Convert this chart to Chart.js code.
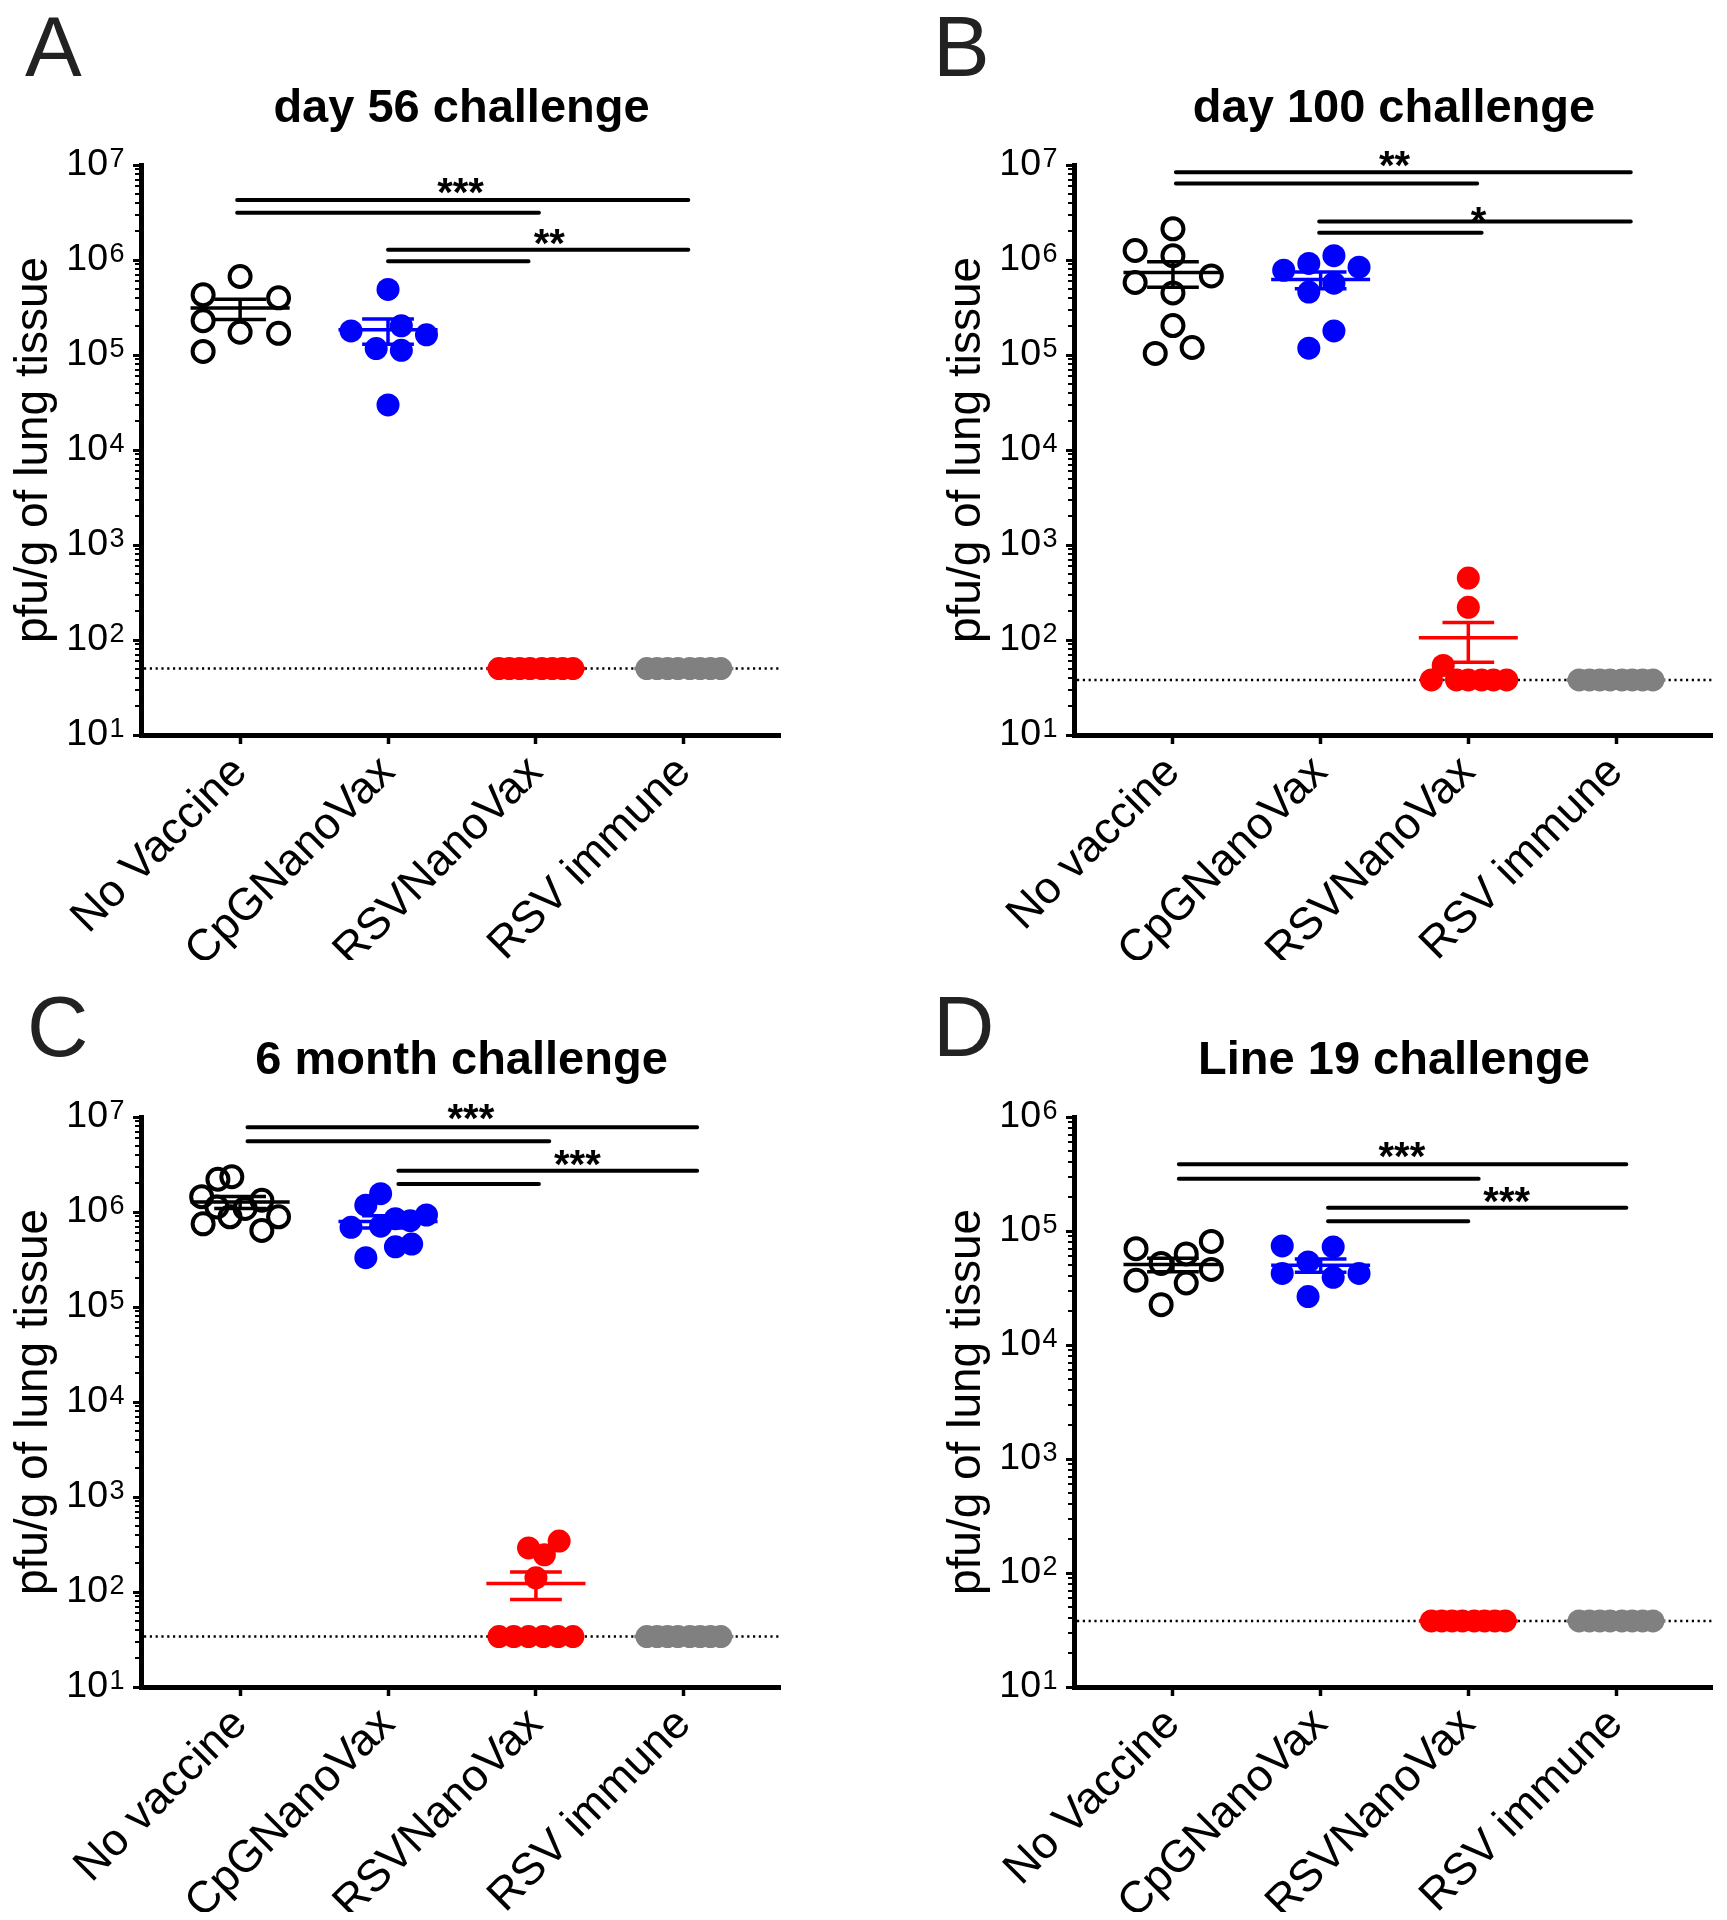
<!DOCTYPE html>
<html>
<head>
<meta charset="utf-8">
<script src="https://cdn.jsdelivr.net/npm/chart.js@4.4.0/dist/chart.umd.min.js"></script>
<style>
  body { margin: 0; background: #fff; width: 1727px; height: 1920px; position: relative; overflow: hidden; }
  canvas { position: absolute; }
</style>
</head>
<body>
<canvas id="chartA" width="863" height="1000" style="left:0;top:0"></canvas>
<canvas id="chartB" width="864" height="1000" style="left:863px;top:0"></canvas>
<canvas id="chartC" width="863" height="968" style="left:0;top:952px"></canvas>
<canvas id="chartD" width="864" height="968" style="left:863px;top:952px"></canvas>
<script>
const FONT = "'Liberation Sans', Arial, sans-serif";

// category labels
const labelsUpper = ['No Vaccine', 'CpGNanoVax', 'RSVNanoVax', 'RSV immune'];
const labelsLower = ['No vaccine', 'CpGNanoVax', 'RSVNanoVax', 'RSV immune'];

// horizontal scatter of tied values (fraction of a category)
const LOD8 = [-0.25, -0.18, -0.11, -0.04, 0.04, 0.11, 0.18, 0.25];

// A: day 56 challenge (pfu/g)
const aNoVax = [6.7e5, 4.3e5, 4.0e5, 2.3e5, 1.74e5, 1.69e5, 1.09e5];
const aNoVaxJit = [0, -0.25, 0.26, -0.25, 0, 0.26, -0.25];
const aCpg = [4.9e5, 2.03e5, 1.79e5, 1.63e5, 1.17e5, 1.12e5, 2.98e4];
const aCpgJit = [0, 0.09, -0.25, 0.26, -0.08, 0.09, 0];
const aRsvNano = [50, 50, 50, 50, 50, 50, 50, 50];
const aRsvImm = [50, 50, 50, 50, 50, 50, 50, 50];
const aLod = 50;

// B: day 100 challenge
const bNoVax = [2.13e6, 1.26e6, 1.11e6, 6.8e5, 5.8e5, 4.5e5, 2.04e5, 1.2e5, 1.04e5];
const bNoVaxJit = [0, -0.256, 0, 0.26, -0.256, 0, 0, 0.13, -0.12];
const bCpg = [1.11e6, 9.2e5, 8.4e5, 7.8e5, 5.7e5, 4.6e5, 1.79e5, 1.18e5];
const bCpgJit = [0.09, -0.08, 0.26, -0.25, 0.09, -0.08, 0.09, -0.08];
const bRsvNano = [449, 221, 54, 38, 38, 38, 38, 38, 38];
const bRsvNanoJit = [0, 0, -0.17, -0.25, -0.08, 0, 0.09, 0.17, 0.26];
const bRsvImm = [38, 38, 38, 38, 38, 38, 38, 38];
const bLod = 38;

// C: 6 month challenge
const cNoVax = [2.35e6, 2.21e6, 1.45e6, 1.33e6, 1.13e6, 1.09e6, 8.9e5, 8.9e5, 7.5e5, 6.4e5];
const cNoVaxJit = [-0.056, -0.15, -0.26, 0.147, -0.157, 0.034, -0.068, 0.26, -0.25, 0.147];
const cCpg = [1.56e6, 1.18e6, 9.3e5, 8.5e5, 8.1e5, 7.1e5, 6.9e5, 4.6e5, 4.3e5, 3.3e5];
const cCpgJit = [-0.05, -0.15, 0.26, 0.05, 0.15, -0.05, -0.25, 0.16, 0.05, -0.15];
const cRsvNano = [344, 291, 246, 141, 34, 34, 34, 34, 34, 34];
const cRsvNanoJit = [0.157, -0.05, 0.057, 0, -0.25, -0.15, -0.05, 0.05, 0.15, 0.25];
const cRsvImm = [34, 34, 34, 34, 34, 34, 34, 34];
const cLod = 34;

// D: Line 19 challenge
const dNoVax = [8.1e4, 7.0e4, 6.3e4, 5.2e4, 4.6e4, 3.7e4, 3.5e4, 2.26e4];
const dNoVaxJit = [0.26, -0.25, 0.09, -0.08, 0.26, -0.25, 0.09, -0.08];
const dCpg = [7.4e4, 7.25e4, 5.35e4, 4.24e4, 4.24e4, 3.92e4, 2.66e4];
const dCpgJit = [-0.26, 0.085, -0.085, -0.26, 0.26, 0.085, -0.085];
const dRsvNano = [38, 38, 38, 38, 38, 38, 38, 38];
const dRsvImm = [38, 38, 38, 38, 38, 38, 38, 38];
const dLod = 38;

// significance brackets: [from category, to category, y value]
const aSig = [[-0.02, 3.03, 4.28e6], [-0.02, 2.02, 3.15e6], [1, 3.03, 1.28e6], [1, 1.95, 9.7e5]];
const aStars = [[1.49, 6.5e6, '***'], [2.09, 1.89e6, '**']];
const bSig = [[0.02, 3.1, 8.4e6], [0.02, 2.06, 6.4e6], [0.99, 3.1, 2.54e6], [0.99, 2.09, 1.94e6]];
const bStars = [[1.5, 1.24e7, '**'], [2.07, 3.2e6, '*']];
const cSig = [[0.05, 3.09, 7.8e6], [0.05, 2.09, 5.57e6], [1.07, 3.09, 2.72e6], [1.07, 2.02, 1.97e6]];
const cStars = [[1.56, 1.2e7, '***'], [2.28, 3.95e6, '***']];
const dSig = [[0.04, 3.07, 3.85e5], [0.04, 2.07, 2.88e5], [1.05, 3.07, 1.6e5], [1.05, 2.0, 1.22e5]];
const dStars = [[1.55, 5.46e5, '***'], [2.26, 2.2e5, '***']];

const groupColors = ['#000000', '#0000ff', '#ff0000', '#808080'];

function makeSet(values, jitter, cat) {
    const open = cat === 0;
    return {
        data: values.map((v, i) => ({ x: cat + jitter[i], y: v })),
        values: values,
        cat: cat,
        pointStyle: 'circle',
        pointRadius: open ? 10.5 : 11.5,
        pointBorderWidth: open ? 4 : 0,
        pointBorderColor: groupColors[cat],
        pointBackgroundColor: open ? 'rgba(0,0,0,0)' : groupColors[cat],
        pointHoverRadius: 0
    };
}

const panelDeco = {
    id: 'panelDeco',
    beforeDatasetsDraw(chart, args, opts) {
        const { ctx, chartArea, scales: { y } } = chart;
        const py = y.getPixelForValue(opts.lod);
        ctx.save();
        ctx.strokeStyle = '#000';
        ctx.lineWidth = 2.5;
        ctx.setLineDash([2.2, 3.6]);
        ctx.beginPath();
        ctx.moveTo(chartArea.left + 3, py);
        ctx.lineTo(chartArea.right, py);
        ctx.stroke();
        ctx.restore();
    },
    afterDatasetsDraw(chart) {
        // mean +/- SEM of each group
        const { ctx, scales: { x, y } } = chart;
        ctx.save();
        ctx.lineWidth = 3.5;
        chart.data.datasets.forEach(ds => {
            const n = ds.values.length;
            const mean = ds.values.reduce((a, b) => a + b, 0) / n;
            const sd = Math.sqrt(ds.values.reduce((a, b) => a + (b - mean) ** 2, 0) / (n - 1));
            const sem = sd / Math.sqrt(n);
            ctx.strokeStyle = groupColors[ds.cat];
            const pm = y.getPixelForValue(mean);
            ctx.beginPath();
            ctx.moveTo(x.getPixelForValue(ds.cat - 0.335), pm);
            ctx.lineTo(x.getPixelForValue(ds.cat + 0.335), pm);
            if (sem > 0) {
                const cx = x.getPixelForValue(ds.cat);
                const pHi = y.getPixelForValue(mean + sem);
                const pLo = y.getPixelForValue(mean - sem);
                ctx.moveTo(cx, pHi);
                ctx.lineTo(cx, pLo);
                ctx.moveTo(x.getPixelForValue(ds.cat - 0.175), pHi);
                ctx.lineTo(x.getPixelForValue(ds.cat + 0.175), pHi);
                ctx.moveTo(x.getPixelForValue(ds.cat - 0.175), pLo);
                ctx.lineTo(x.getPixelForValue(ds.cat + 0.175), pLo);
            }
            ctx.stroke();
        });
        ctx.restore();
    },
    afterDraw(chart, args, opts) {
        const { ctx, chartArea, scales: { x, y } } = chart;
        ctx.save();

        // minor log ticks
        ctx.strokeStyle = '#000';
        ctx.lineWidth = 2;
        const e0 = Math.round(Math.log10(y.min));
        const e1 = Math.round(Math.log10(y.max));
        ctx.beginPath();
        for (let e = e0; e < e1; e++) {
            for (let m = 2; m <= 9; m++) {
                const py = Math.round(y.getPixelForValue(m * Math.pow(10, e)));
                ctx.moveTo(y.right - 6, py);
                ctx.lineTo(y.right, py);
            }
        }
        ctx.stroke();

        // exponents of the tick labels
        const labelRight = y.right - y.options.grid.tickLength - y.options.ticks.padding;
        ctx.fillStyle = '#000';
        ctx.font = '27px ' + FONT;
        ctx.textAlign = 'left';
        ctx.textBaseline = 'alphabetic';
        y.ticks.forEach(t => {
            const py = y.getPixelForValue(t.value);
            ctx.fillText(String(Math.round(Math.log10(t.value))), labelRight + 1.5, py + 1.5);
        });

        // significance brackets
        ctx.lineWidth = 4;
        ctx.lineCap = 'round';
        ctx.beginPath();
        opts.sig.forEach(([x1, x2, v]) => {
            const py = y.getPixelForValue(v);
            ctx.moveTo(x.getPixelForValue(x1), py);
            ctx.lineTo(x.getPixelForValue(x2), py);
        });
        ctx.stroke();
        ctx.font = 'bold 40px ' + FONT;
        ctx.textAlign = 'center';
        opts.stars.forEach(([cx, v, txt]) => {
            ctx.fillText(txt, x.getPixelForValue(cx), y.getPixelForValue(v) + 23);
        });

        // panel title and letter
        ctx.font = 'bold 47px ' + FONT;
        ctx.fillText(opts.title, (chartArea.left + chartArea.right) / 2 + 1, 122);
        ctx.font = '85px ' + FONT;
        ctx.fillStyle = '#222';
        ctx.textAlign = 'left';
        ctx.fillText(opts.letter, opts.letterX, opts.letterY);
        ctx.restore();
    }
};

function makeChart(id, p) {
    const canvas = document.getElementById(id);
    const datasets = [
        makeSet(p.sets[0][0], p.sets[0][1], 0),
        makeSet(p.sets[1][0], p.sets[1][1], 1),
        makeSet(p.sets[2][0], p.sets[2][1], 2),
        makeSet(p.sets[3][0], p.sets[3][1], 3)
    ];
    return new Chart(canvas, {
        type: 'scatter',
        data: { datasets },
        options: {
            responsive: false,
            animation: false,
            events: [],
            layout: { padding: { left: p.padLeft, right: p.padRight, top: 165, bottom: canvas.height - 960 } },
            plugins: {
                legend: { display: false },
                tooltip: { enabled: false },
                panelDeco: {
                    lod: p.lod, sig: p.sig, stars: p.stars, title: p.title,
                    letter: p.letter, letterX: p.letterX, letterY: p.letterY
                }
            },
            scales: {
                x: {
                    type: 'linear',
                    min: -0.67,
                    max: 3.65,
                    afterBuildTicks: s => { s.ticks = [0, 1, 2, 3].map(v => ({ value: v })); },
                    afterFit: s => { s.height = 225; },
                    ticks: {
                        callback: v => p.labels[v],
                        color: '#000',
                        font: { family: FONT, size: 45 },
                        minRotation: 45,
                        maxRotation: 45,
                        autoSkip: false,
                        padding: 2
                    },
                    grid: { drawOnChartArea: false, drawTicks: true, tickLength: 9, tickWidth: 3.5, tickColor: '#000' },
                    border: { display: true, color: '#000', width: 5 }
                },
                y: {
                    type: 'logarithmic',
                    min: 10,
                    max: p.yMax,
                    afterBuildTicks: s => {
                        const ticks = [];
                        for (let v = 10; v <= p.yMax * 1.001; v *= 10) ticks.push({ value: v, major: true });
                        s.ticks = ticks;
                    },
                    afterFit: s => { s.width = 141; },
                    ticks: {
                        callback: () => '10',
                        color: '#000',
                        font: { family: FONT, size: 37.5 },
                        padding: 25
                    },
                    grid: { drawOnChartArea: false, drawTicks: true, tickLength: 8, tickWidth: 3, tickColor: '#000' },
                    border: { display: true, color: '#000', width: 5 },
                    title: {
                        display: true,
                        text: 'pfu/g of lung tissue',
                        color: '#000',
                        font: { family: FONT, size: 46, lineHeight: 1 },
                        padding: { top: 11, bottom: 0 }
                    }
                }
            }
        },
        plugins: [panelDeco]
    });
}

makeChart('chartA', {
    labels: labelsUpper, yMax: 1e7, lod: aLod, sig: aSig, stars: aStars,
    title: 'day 56 challenge', letter: 'A', letterX: 25, letterY: 76, padLeft: 0, padRight: 83,
    sets: [[aNoVax, aNoVaxJit], [aCpg, aCpgJit], [aRsvNano, LOD8], [aRsvImm, LOD8]]
});
makeChart('chartB', {
    labels: labelsLower, yMax: 1e7, lod: bLod, sig: bSig, stars: bStars,
    title: 'day 100 challenge', letter: 'B', letterX: 70, letterY: 76, padLeft: 70, padRight: 15,
    sets: [[bNoVax, bNoVaxJit], [bCpg, bCpgJit], [bRsvNano, bRsvNanoJit], [bRsvImm, LOD8]]
});
makeChart('chartC', {
    labels: labelsLower, yMax: 1e7, lod: cLod, sig: cSig, stars: cStars,
    title: '6 month challenge', letter: 'C', letterX: 27, letterY: 104, padLeft: 0, padRight: 83,
    sets: [[cNoVax, cNoVaxJit], [cCpg, cCpgJit], [cRsvNano, cRsvNanoJit], [cRsvImm, LOD8]]
});
makeChart('chartD', {
    labels: labelsUpper, yMax: 1e6, lod: dLod, sig: dSig, stars: dStars,
    title: 'Line 19 challenge', letter: 'D', letterX: 70, letterY: 104, padLeft: 70, padRight: 15,
    sets: [[dNoVax, dNoVaxJit], [dCpg, dCpgJit], [dRsvNano, LOD8], [dRsvImm, LOD8]]
});
</script>
</body>
</html>
